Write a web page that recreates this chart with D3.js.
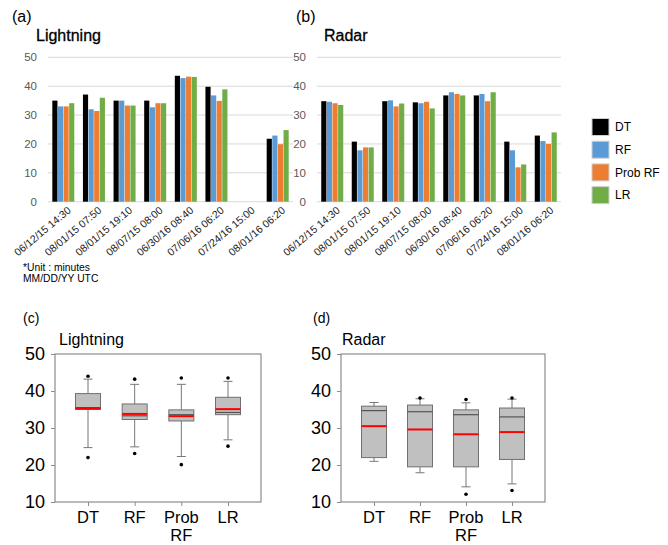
<!DOCTYPE html>
<html>
<head>
<meta charset="utf-8">
<script src="https://cdn.jsdelivr.net/npm/d3@7"></script>
<style>
body { margin: 0; background: #fff; }
svg { display: block; font-family: Arial, "Liberation Sans", sans-serif; }
</style>
</head>
<body>
<svg id="chart" width="668" height="545"></svg>
<script>
// ---------- DATA ----------
const dates = ["06/12/15 14:30","08/01/15 07:50","08/01/15 19:10","08/07/15 08:00","06/30/16 08:40","07/06/16 06:20","07/24/16 15:00","08/01/16 06:20"];
const methods = ["DT","RF","Prob RF","LR"];
const methodColors = ["#000000","#5b9bd5","#ed7d31","#70ad47"];
const barTicks = [0,10,20,30,40,50];

const lightningDT     = [35.0, 37.1, 35.0, 35.0, 43.6, 39.8, null, 21.8];
const lightningRF     = [33.0, 32.0, 35.0, 32.7, 42.8, 36.8, null, 22.9];
const lightningProbRF = [33.0, 31.4, 33.3, 34.1, 43.3, 34.9, null, 19.9];
const lightningLR     = [34.1, 36.0, 33.3, 34.1, 43.2, 38.9, null, 24.8];

const radarDT     = [34.8, 20.8, 34.8, 34.4, 36.8, 36.8, 20.8, 22.9];
const radarRF     = [34.6, 17.8, 35.1, 34.1, 37.9, 37.3, 17.8, 21.0];
const radarProbRF = [34.1, 18.8, 33.0, 34.6, 37.3, 34.8, 11.9, 20.0];
const radarLR     = [33.5, 18.8, 34.0, 32.3, 36.8, 37.9, 12.9, 24.0];

const boxLabels = [["DT"],["RF"],["Prob","RF"],["LR"]];
const boxTicks = [10,20,30,40,50];

const lightningWhiskerLow  = [24.7, 24.9, 22.3, 26.8];
const lightningQ1          = [35.0, 32.3, 31.9, 33.6];
const lightningMedian      = [35.1, 33.3, 33.6, 34.2];
const lightningQ3          = [39.3, 36.5, 34.9, 38.3];
const lightningWhiskerHigh = [43.2, 41.8, 41.8, 42.6];
const lightningMean        = [35.4, 33.8, 33.2, 35.1];
const lightningOutliers    = [[22.0, 44.0], [23.1, 43.2], [20.1, 43.5], [25.1, 43.5]];

const radarWhiskerLow  = [21.0, 17.9, 14.1, 14.9];
const radarQ1          = [22.0, 19.5, 19.5, 21.5];
const radarMedian      = [34.7, 34.4, 33.6, 33.0];
const radarQ3          = [35.9, 36.2, 34.9, 35.4];
const radarWhiskerHigh = [36.9, 37.9, 36.8, 37.8];
const radarMean        = [30.5, 29.6, 28.3, 28.9];
const radarOutliers    = [[], [38.1], [12.1, 37.7], [13.1, 38.1]];

// ---------- DRAW ----------
const svg = d3.select("#chart");

function barPanel(opt) {
  const g = svg.append("g");
  const x = d3.scaleBand().domain(dates).range([opt.x0, opt.x1]).paddingInner(0).paddingOuter(0);
  const y = d3.scaleLinear().domain([0, 50]).range([201.7, 57.3]);
  const inner = d3.scaleBand().domain(methods).range([0, 22]).paddingInner(0.08);

  g.append("text").attr("x", opt.labelX).attr("y", 22).attr("font-size", 16).attr("fill", "#000").text(opt.label);
  g.append("text").attr("x", opt.titleX).attr("y", 41).attr("font-size", 16).attr("font-weight", 500)
    .attr("stroke", "#000").attr("stroke-width", 0.3).attr("fill", "#000").text(opt.title);

  // gridlines
  g.selectAll("line.grid").data(barTicks.filter(d => d > 0)).join("line")
    .attr("x1", opt.x0).attr("x2", opt.x1)
    .attr("y1", d => y(d)).attr("y2", d => y(d))
    .attr("stroke", "#d9d9d9").attr("stroke-width", 1);
  g.append("line").attr("x1", opt.x0).attr("x2", opt.x1).attr("y1", y(0)).attr("y2", y(0))
    .attr("stroke", "#d9d9d9").attr("stroke-width", 1);

  // y tick labels
  g.selectAll("text.yt").data(barTicks).join("text")
    .attr("x", opt.x0 - 11).attr("y", d => y(d)).attr("dy", "0.35em")
    .attr("text-anchor", "end").attr("font-size", 11.5).attr("fill", "#595959")
    .text(d => d);

  // bars
  opt.series.forEach((vals, si) => {
    g.selectAll(null).data(vals.map((v, i) => ({v, d: dates[i]})).filter(o => o.v != null)).join("rect")
      .attr("x", o => x(o.d) + (x.bandwidth() - 22) / 2 + inner(methods[si]))
      .attr("width", inner.bandwidth())
      .attr("y", o => y(o.v))
      .attr("height", o => y(0) - y(o.v))
      .attr("fill", methodColors[si]);
  });

  // x labels
  g.selectAll("text.xl").data(dates).join("text")
    .attr("transform", d => `translate(${x(d) + x.bandwidth() / 2 + 6},${y(0) + 7}) rotate(-40)`)
    .attr("text-anchor", "end").attr("dy", "0.35em")
    .attr("font-size", 10.5).attr("fill", "#222")
    .text(d => d);
}

barPanel({label: "(a)", labelX: 12, title: "Lightning", titleX: 36, x0: 48, x1: 293,
  series: [lightningDT, lightningRF, lightningProbRF, lightningLR]});
barPanel({label: "(b)", labelX: 296, title: "Radar", titleX: 324, x0: 317, x1: 561,
  series: [radarDT, radarRF, radarProbRF, radarLR]});

// unit note
svg.append("text").attr("x", 23).attr("y", 271).attr("font-size", 10.3).attr("fill", "#000").text("*Unit :  minutes");
svg.append("text").attr("x", 23).attr("y", 282).attr("font-size", 10.3).attr("fill", "#000").text("MM/DD/YY UTC");

// legend
const leg = svg.append("g");
methods.forEach((m, i) => {
  const cy = 127 + i * 22.7;
  leg.append("rect").attr("x", 592).attr("y", cy - 8.5).attr("width", 17).attr("height", 17)
    .attr("fill", methodColors[i]).attr("stroke", "#d0d0d0").attr("stroke-width", 1);
  leg.append("text").attr("x", 615).attr("y", cy).attr("dy", "0.35em").attr("font-size", 12).attr("fill", "#000").text(m);
});

function boxPanel(opt) {
  const g = svg.append("g");
  const top = 354, bottom = 502;
  const y = d3.scaleLinear().domain([10, 50]).range([bottom, top]);
  const x = d3.scalePoint().domain(methods).range([opt.x0 + 33, opt.x1 - 33]);
  const bw = 25, cw = 9;
  const frame = "#8c8c8c";

  g.append("text").attr("x", opt.labelX).attr("y", 323).attr("font-size", 14).attr("fill", "#000").text(opt.label);
  g.append("text").attr("x", opt.titleX).attr("y", 345).attr("font-size", 16).attr("fill", "#000").text(opt.title);

  g.append("rect").attr("x", opt.x0).attr("y", top).attr("width", opt.x1 - opt.x0).attr("height", bottom - top)
    .attr("fill", "none").attr("stroke", frame).attr("stroke-width", 1.2);

  const yAxis = d3.axisLeft(y).tickValues(boxTicks).tickSize(4).tickPadding(6);
  const ya = g.append("g").attr("transform", `translate(${opt.x0},0)`).call(yAxis);
  ya.select(".domain").remove();
  ya.selectAll("line").attr("stroke", frame);
  ya.selectAll("text").attr("font-size", 18).attr("fill", "#000").attr("font-family", "Arial, 'Liberation Sans', sans-serif");

  const xAxis = d3.axisBottom(x).tickSize(4).tickFormat("");
  const xa = g.append("g").attr("transform", `translate(0,${bottom})`).call(xAxis);
  xa.select(".domain").remove();
  xa.selectAll("line").attr("stroke", frame);

  methods.forEach((m, i) => {
    const cx = x(m);
    const lbl = boxLabels[i];
    lbl.forEach((t, j) => {
      g.append("text").attr("x", cx).attr("y", 523 + j * 18).attr("text-anchor", "middle")
        .attr("font-size", 16.5).attr("fill", "#000").text(t);
    });
    // whiskers
    g.append("line").attr("x1", cx).attr("x2", cx).attr("y1", y(opt.wl[i])).attr("y2", y(opt.q1[i])).attr("stroke", "#777");
    g.append("line").attr("x1", cx).attr("x2", cx).attr("y1", y(opt.q3[i])).attr("y2", y(opt.wh[i])).attr("stroke", "#777");
    g.append("line").attr("x1", cx - cw / 2).attr("x2", cx + cw / 2).attr("y1", y(opt.wl[i])).attr("y2", y(opt.wl[i])).attr("stroke", "#777");
    g.append("line").attr("x1", cx - cw / 2).attr("x2", cx + cw / 2).attr("y1", y(opt.wh[i])).attr("y2", y(opt.wh[i])).attr("stroke", "#777");
    // box
    g.append("rect").attr("x", cx - bw / 2).attr("y", y(opt.q3[i])).attr("width", bw)
      .attr("height", y(opt.q1[i]) - y(opt.q3[i]))
      .attr("fill", "#c0c0c0").attr("stroke", "#707070").attr("stroke-width", 1);
    // median
    g.append("line").attr("x1", cx - bw / 2).attr("x2", cx + bw / 2).attr("y1", y(opt.med[i])).attr("y2", y(opt.med[i]))
      .attr("stroke", "#555").attr("stroke-width", 1.2);
    // mean
    g.append("line").attr("x1", cx - bw / 2).attr("x2", cx + bw / 2).attr("y1", y(opt.mean[i])).attr("y2", y(opt.mean[i]))
      .attr("stroke", "#ff0000").attr("stroke-width", 2);
    // outliers
    g.selectAll(null).data(opt.out[i]).join("circle")
      .attr("cx", cx).attr("cy", d => y(d)).attr("r", 1.8).attr("fill", "#000");
  });
}

boxPanel({label: "(c)", labelX: 23, title: "Lightning", titleX: 59, x0: 55, x1: 261,
  wl: lightningWhiskerLow, q1: lightningQ1, med: lightningMedian, q3: lightningQ3, wh: lightningWhiskerHigh,
  mean: lightningMean, out: lightningOutliers});
boxPanel({label: "(d)", labelX: 313, title: "Radar", titleX: 342, x0: 341, x1: 545,
  wl: radarWhiskerLow, q1: radarQ1, med: radarMedian, q3: radarQ3, wh: radarWhiskerHigh,
  mean: radarMean, out: radarOutliers});
</script>
</body>
</html>
